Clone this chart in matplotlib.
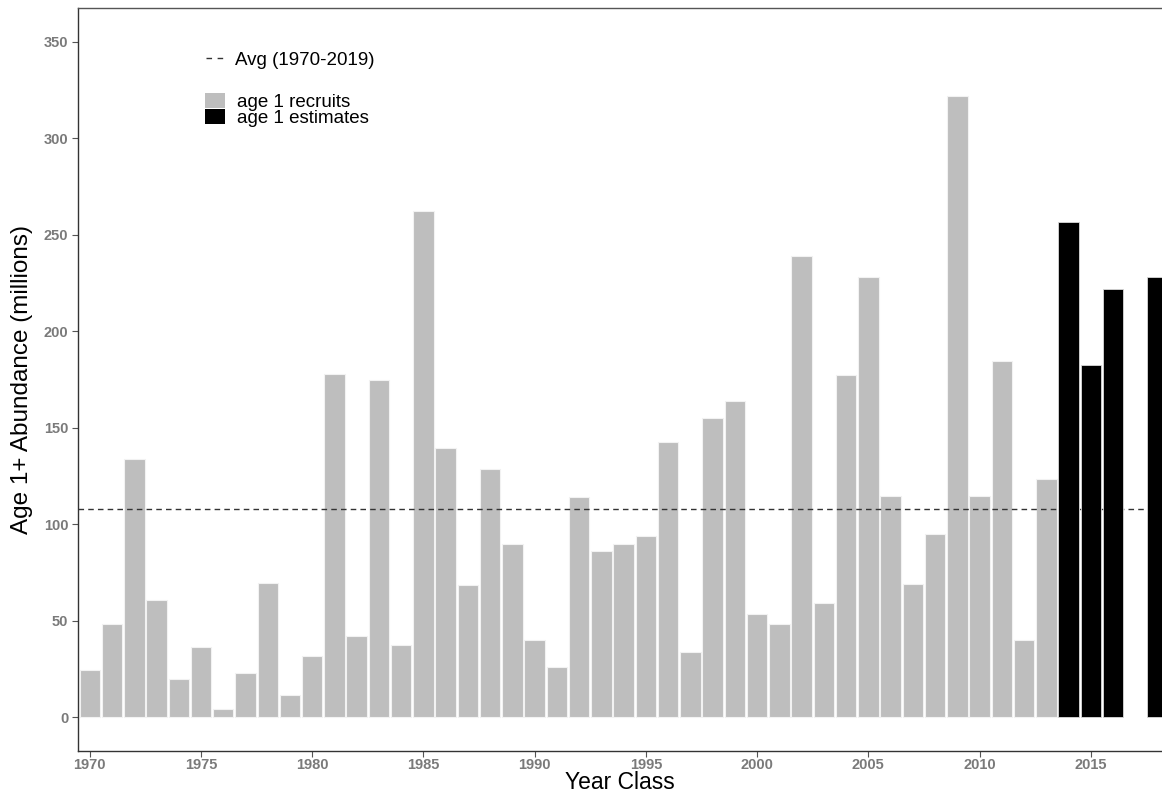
import matplotlib
matplotlib.use("Agg")
import matplotlib.pyplot as plt
from matplotlib.lines import Line2D
from matplotlib.patches import Patch

plt.rcParams['font.family'] = ['Liberation Sans', 'DejaVu Sans']

# Age 1 recruits (millions) by year class
recruit_years = list(range(1970, 2014))
recruit_values = [
    24.4, 48.2, 133.7, 60.5, 19.5, 36.4, 4.3, 23.0, 69.5, 11.2,
    31.6, 177.8, 42.0, 174.7, 37.5, 262.4, 139.6, 68.3, 128.7, 89.5,
    39.8, 25.8, 113.9, 86.2, 89.8, 94.0, 142.7, 33.9, 155.0, 163.7,
    53.2, 48.2, 239.1, 59.3, 177.1, 227.9, 114.4, 68.8, 94.9, 321.9,
    114.4, 184.4, 39.8, 123.2,
]

# Age 1 estimates (millions)
estimate_years = [2014, 2015, 2016, 2018]
estimate_values = [256.4, 182.6, 222.0, 227.9]

# Long-term average abundance
avg_value = 107.8

x_ticks = [1970, 1975, 1980, 1985, 1990, 1995, 2000, 2005, 2010, 2015]
y_ticks = [0, 50, 100, 150, 200, 250, 300, 350]

fig = plt.figure(figsize=(11.62, 7.92), dpi=100)
ax = fig.add_axes([78 / 1162, 1 - 751 / 792, 1 - 78 / 1162, (751 - 8) / 792])

ax.bar(recruit_years, recruit_values, width=0.92, color='#BEBEBE',
       edgecolor='#F2F2F2', linewidth=0.8, zorder=2)
ax.axhline(avg_value, color='#333333', linestyle=(0, (4, 3)), linewidth=1.0, zorder=3)
ax.bar(estimate_years, estimate_values, width=0.92, color='#000000',
       edgecolor='#D9D9D9', linewidth=0.6, zorder=4)

ax.set_xlim(1969.47, 2018.2)
ax.set_ylim(-17.6, 367.5)
ax.set_xticks(x_ticks)
ax.set_yticks(y_ticks)

tick_color = '#7A7A7A'
for lab in ax.get_xticklabels() + ax.get_yticklabels():
    lab.set_fontsize(10.5)
    lab.set_fontweight('bold')
    lab.set_color(tick_color)
ax.tick_params(axis='both', direction='out', length=4, width=0.8, color='#555555')
ax.tick_params(axis='y', pad=3)
ax.tick_params(axis='x', pad=1)

for side in ['left', 'bottom']:
    ax.spines[side].set_color('#333333')
    ax.spines[side].set_linewidth(1.0)
ax.spines['top'].set_color('#555555')
ax.spines['top'].set_linewidth(1.0)
ax.spines['right'].set_visible(False)

ax.set_ylabel('Age 1+ Abundance (millions)', fontsize=17.5, color='black', labelpad=8)
ax.set_xlabel('Year Class', fontsize=16.5, color='black', labelpad=-1)

# Legend for the average line
line_handle = Line2D([], [], color='#333333', linestyle=(0, (4, 4)), linewidth=1.0)
leg1 = ax.legend([line_handle], ['Avg (1970-2019)'], loc='upper left',
                 bbox_to_anchor=(0.111, 0.951), frameon=False, fontsize=13.5,
                 handlelength=0.9, handletextpad=0.65, borderaxespad=0)
ax.add_artist(leg1)

# Legend for the bar fills
bar_handles = [Patch(facecolor='#BEBEBE', edgecolor='none'),
               Patch(facecolor='#000000', edgecolor='none')]
ax.legend(bar_handles, ['age 1 recruits', 'age 1 estimates'], loc='upper left',
          bbox_to_anchor=(0.110, 0.896), frameon=False, fontsize=13.5,
          handlelength=1.1, handleheight=0.85, labelspacing=-0.1,
          handletextpad=0.6, borderaxespad=0)

fig.savefig('out.png', dpi=100)
